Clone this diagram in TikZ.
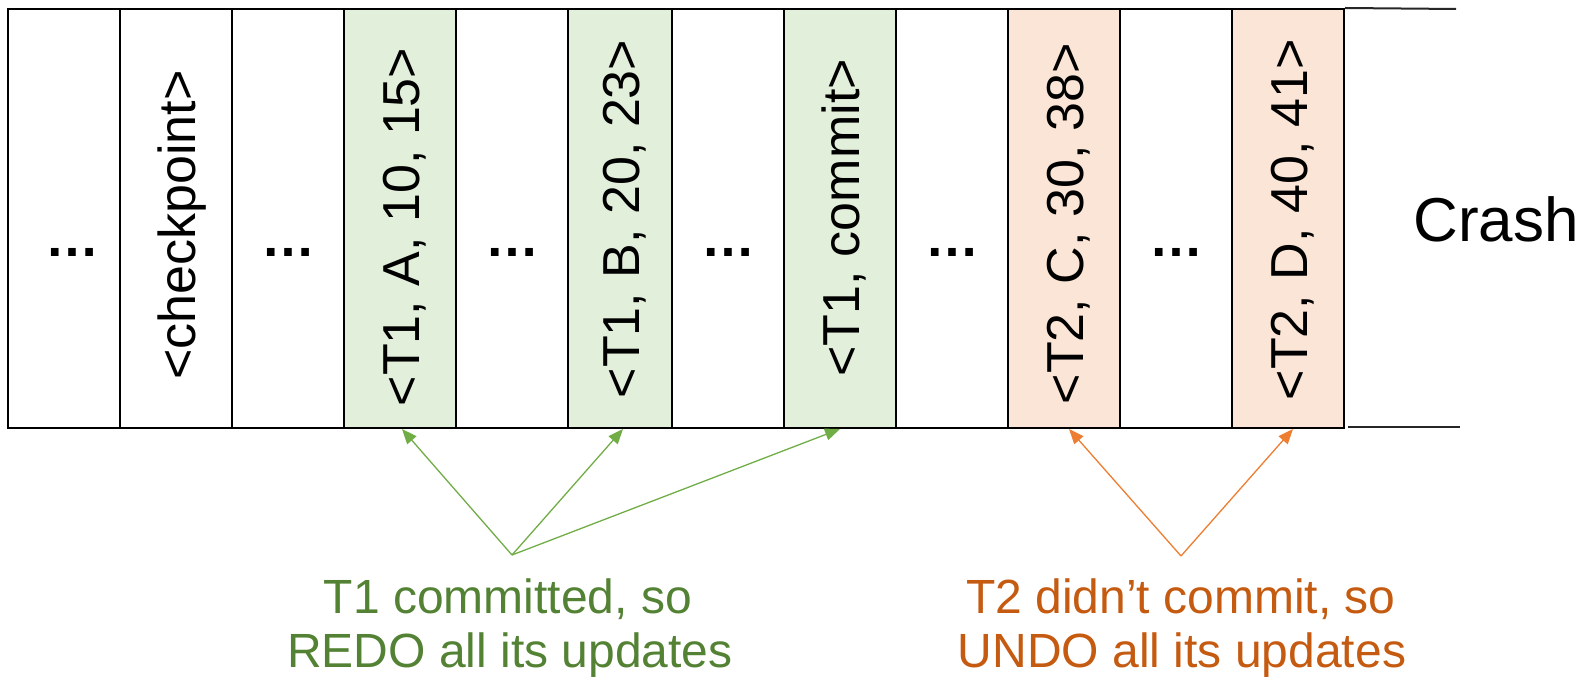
\documentclass[tikz,border=0pt]{standalone}
\usepackage{fontspec}
\setmainfont{Liberation Sans}
\usetikzlibrary{arrows.meta}

\definecolor{redofill}{HTML}{E2EFDA}
\definecolor{undofill}{HTML}{FBE5D6}
\definecolor{redoline}{HTML}{70AD47}
\definecolor{redotext}{HTML}{548235}
\definecolor{undoline}{HTML}{ED7D31}
\definecolor{undotext}{HTML}{C55A11}

\tikzset{
  cell/.style={draw=black, line width=1pt, fill=white, inner sep=0pt,
    minimum height=209.5pt, minimum width=56pt},
  redo/.style={cell, fill=redofill},
  undo/.style={cell, fill=undofill},
  rec/.style={rotate=90, anchor=base, inner sep=0pt,
    font=\fontsize{26}{31}\selectfont},
  gap/.style={anchor=base, inner sep=0pt,
    font=\fontsize{27}{32}\selectfont\bfseries},
  ptr/.style={line width=0.65pt, -{Triangle[length=7.5pt,width=6pt]}},
  note/.style={anchor=base, inner sep=0pt,
    font=\fontsize{24}{28}\selectfont},
  rule/.style={draw=black!85, line width=1pt}
}

\begin{document}
\begin{tikzpicture}[x=0.5pt,y=-0.5pt]
\useasboundingbox (0,0) rectangle (1591,678);

% the log records, left to right
\node[cell, minimum width=56.15pt] (c1)  at (63.85,218.5) {};
\node[cell]                        (c2)  at (176,218.5)  {};
\node[cell]                        (c3)  at (288,218.5)  {};
\node[redo]                        (c4)  at (400,218.5)  {};
\node[cell]                        (c5)  at (512,218.5)  {};
\node[redo, minimum width=52pt]    (c6)  at (620,218.5)  {};
\node[cell]                        (c7)  at (728,218.5)  {};
\node[redo]                        (c8)  at (840,218.5)  {};
\node[cell]                        (c9)  at (952,218.5)  {};
\node[undo]                        (c10) at (1064,218.5) {};
\node[cell]                        (c11) at (1176,218.5) {};
\node[undo]                        (c12) at (1288,218.5) {};

% open end of the log
\coordinate (topend) at (1456,9);
\coordinate (botstart) at (1348,427);
\coordinate (botend) at (1460,427);
\draw[rule] (c12.north east) -- (topend);
\draw[rule] (botstart) -- (botend);

% elided records
\node[gap] (d1)  at (72.5,257) {…};
\node[gap] (d3)  at (288,257)  {…};
\node[gap] (d5)  at (512,257)  {…};
\node[gap] (d7)  at (728,257)  {…};
\node[gap] (d9)  at (952,257)  {…};
\node[gap] (d11) at (1176,257) {…};

% record labels
\node[rec] (t2)  at (195,225)    {<checkpoint>};
\node[rec] (t4)  at (419,227)    {<T1, A, 10, 15>};
\node[rec] (t6)  at (639,219)    {<T1, B, 20, 23>};
\node[rec] (t8)  at (859,218)    {<T1, commit>};
\node[rec] (t10) at (1083,223.5) {<T2, C, 30, 38>};
\node[rec] (t12) at (1307,219.5) {<T2, D, 40, 41>};

\node[anchor=base west, inner sep=0pt, font=\fontsize{31}{37}\selectfont]
  (crash) at (1413,242) {Crash};

% redo pointers
\coordinate (gapex) at (512,555);
\draw[ptr, redoline] (gapex) -- ([xshift=1pt]c4.south);
\draw[ptr, redoline] (gapex) -- ([xshift=1.5pt]c6.south);
\draw[ptr, redoline] (gapex) -- (c8.south);

% undo pointers
\coordinate (oapex) at (1181,556);
\draw[ptr, undoline] (oapex) -- ([xshift=2.5pt]c10.south);
\draw[ptr, undoline] (oapex) -- ([xshift=2.5pt]c12.south);

% explanations
\node[note, text=redotext] (g1) at (508,613) {T1 committed, so};
\node[note, text=redotext] (g2) at (510,668) {REDO all its updates};
\node[note, text=undotext] (o1) at (1181,613) {T2 didn’t commit, so};
\node[note, text=undotext] (o2) at (1182,668) {UNDO all its updates};
\end{tikzpicture}
\end{document}
